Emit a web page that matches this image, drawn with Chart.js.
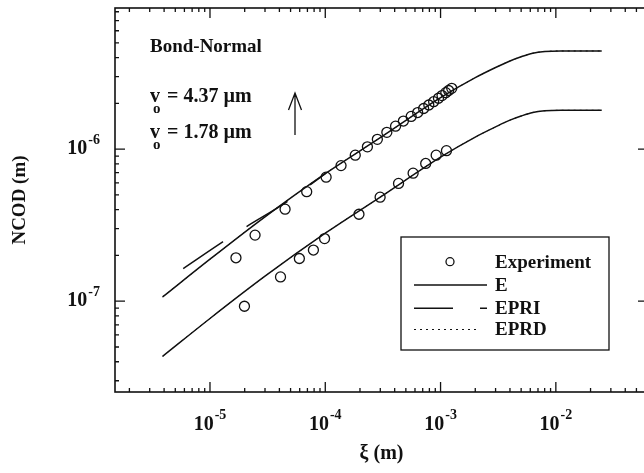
<!DOCTYPE html>
<html><head><meta charset="utf-8">
<script src="https://cdn.jsdelivr.net/npm/chart.js@4.4.0/dist/chart.umd.min.js"></script>
<style>html,body{margin:0;padding:0;overflow:hidden;background:#fff}canvas{display:block}</style>
</head><body>
<canvas id="c" width="660" height="473"></canvas>
<script>
// ---- data ----
const curveX   = [3.88e-6, 1e-5, 3e-5, 1e-4, 3e-4, 1e-3, 2e-3, 3e-3, 4e-3, 5e-3, 6.3e-3, 8e-3, 1.1e-2, 1.5e-2, 2.5e-2];
const upperE   = [1.067e-7, 1.89e-7, 3.59e-7, 6.9e-7, 1.19e-6, 2.18e-6, 2.95e-6, 3.44e-6, 3.80e-6, 4.05e-6, 4.27e-6, 4.38e-6, 4.42e-6, 4.42e-6, 4.42e-6];
const lowerE   = [4.34e-8, 7.7e-8, 1.46e-7, 2.8e-7, 4.84e-7, 8.86e-7, 1.20e-6, 1.40e-6, 1.55e-6, 1.65e-6, 1.74e-6, 1.785e-6, 1.80e-6, 1.80e-6, 1.80e-6];
const epriX    = [5.86e-6, 1.29e-5, 2.05e-5, 4.64e-5, 1e-4];
const epriY    = [1.64e-7, 2.455e-7, 3.08e-7, 4.50e-7, 6.9e-7];
const expUpperX = [1.68e-5, 2.46e-5, 4.48e-5, 6.90e-5, 1.017e-4, 1.37e-4, 1.82e-4, 2.32e-4, 2.83e-4, 3.42e-4, 4.07e-4, 4.76e-4, 5.56e-4, 6.33e-4, 7.13e-4, 7.91e-4, 8.71e-4, 9.59e-4, 1.03e-3, 1.11e-3, 1.175e-3, 1.25e-3];
const expUpperY = [1.93e-7, 2.72e-7, 4.03e-7, 5.25e-7, 6.54e-7, 7.79e-7, 9.13e-7, 1.035e-6, 1.16e-6, 1.29e-6, 1.416e-6, 1.53e-6, 1.64e-6, 1.74e-6, 1.85e-6, 1.95e-6, 2.05e-6, 2.16e-6, 2.25e-6, 2.35e-6, 2.43e-6, 2.51e-6];
const expLowerX = [1.99e-5, 4.09e-5, 5.96e-5, 7.89e-5, 9.86e-5, 1.96e-4, 2.99e-4, 4.32e-4, 5.78e-4, 7.43e-4, 9.16e-4, 1.125e-3];
const expLowerY = [9.27e-8, 1.445e-7, 1.91e-7, 2.17e-7, 2.58e-7, 3.73e-7, 4.83e-7, 5.95e-7, 6.95e-7, 8.05e-7, 9.13e-7, 9.77e-7];
const xTickExps = ['-5', '-4', '-3', '-2'];
const yTickExps = ['-7', '-6'];
const legendLabels = ['Experiment', 'E', 'EPRI', 'EPRD'];
const v0Labels = ['4.37', '1.78'];
const titleText = 'Bond-Normal';
const xTitle = 'ξ (m)';
const yTitle = 'NCOD (m)';

const FONT = '"Liberation Serif", "Times New Roman", serif';
const INK = '#111';
const pts = (xs, ys) => xs.map((x, i) => ({x, y: ys[i]}));

function logTicks(min, max) {
  const out = [];
  for (let e = Math.floor(Math.log10(min)); e <= Math.ceil(Math.log10(max)); e++) {
    for (let m = 1; m <= 9; m++) {
      const v = m * Math.pow(10, e);
      if (v >= min * 0.9999 && v <= max * 1.0001) out.push({value: v});
    }
  }
  return out;
}
const isMajor = v => Math.abs(Math.log10(v) - Math.round(Math.log10(v))) < 1e-6;

const decor = {
  id: 'decor',
  afterDraw(chart) {
    const ctx = chart.ctx, a = chart.chartArea;
    const xs = chart.scales.x, ys = chart.scales.y;
    ctx.save();
    ctx.strokeStyle = INK; ctx.fillStyle = INK;
    // frame
    ctx.lineWidth = 1.6;
    ctx.strokeRect(a.left, a.top, a.right - a.left, a.bottom - a.top);
    // inward ticks
    ctx.lineWidth = 1.3;
    ctx.beginPath();
    xs.ticks.forEach(t => {
      const p = xs.getPixelForValue(t.value);
      const L = isMajor(t.value) ? 10 : 4;
      ctx.moveTo(p, a.bottom); ctx.lineTo(p, a.bottom - L);
      ctx.moveTo(p, a.top); ctx.lineTo(p, a.top + L);
    });
    ys.ticks.forEach(t => {
      const p = ys.getPixelForValue(t.value);
      const L = isMajor(t.value) ? 10 : 4;
      ctx.moveTo(a.left, p); ctx.lineTo(a.left + L, p);
      ctx.moveTo(a.right, p); ctx.lineTo(a.right - L, p);
    });
    ctx.stroke();
    // tick labels with superscripts
    const big = 'bold 20px ' + FONT, small = 'bold 14px ' + FONT;
    ctx.textBaseline = 'alphabetic'; ctx.textAlign = 'left';
    xTickExps.forEach(ex => {
      const p = xs.getPixelForValue(Math.pow(10, +ex));
      ctx.font = big; const w1 = ctx.measureText('10').width;
      ctx.font = small; const w2 = ctx.measureText(ex).width;
      const x0 = p - (w1 + w2 + 1) / 2;
      ctx.font = big; ctx.fillText('10', x0, a.bottom + 38);
      ctx.font = small; ctx.fillText(ex, x0 + w1 + 1, a.bottom + 27);
    });
    yTickExps.forEach(ex => {
      const p = ys.getPixelForValue(Math.pow(10, +ex));
      ctx.font = small; const w2 = ctx.measureText(ex).width;
      ctx.font = big; const w1 = ctx.measureText('10').width;
      const xr = a.left - 15;
      ctx.font = small; ctx.fillText(ex, xr - w2, p - 5);
      ctx.font = big; ctx.fillText('10', xr - w2 - 1 - w1, p + 5);
    });
    // annotation texts
    ctx.font = 'bold 19px ' + FONT;
    ctx.fillText(titleText, 150, 52);
    const base = [102, 137.5];
    v0Labels.forEach((v, i) => {
      ctx.font = 'bold 20px ' + FONT;
      ctx.fillText('v', 150, base[i]);
      ctx.font = 'bold 15px ' + FONT;
      ctx.fillText('o', 153, base[i] + 11);
      ctx.font = 'bold 20px ' + FONT;
      ctx.fillText('= ' + v + ' µm', 167, base[i]);
    });
    // arrow
    ctx.lineWidth = 1.3;
    ctx.beginPath();
    ctx.moveTo(295, 135); ctx.lineTo(295, 93);
    ctx.moveTo(288.5, 110); ctx.lineTo(295, 93); ctx.lineTo(301.5, 110);
    ctx.stroke();
    // legend box
    const L0 = 401, T0 = 237, R0 = 609, B0 = 350;
    ctx.lineWidth = 1.3;
    ctx.strokeRect(L0, T0, R0 - L0, B0 - T0);
    const rows = [261.7, 285, 308.3, 329.5];
    ctx.font = 'bold 19px ' + FONT;
    ctx.textBaseline = 'middle';
    legendLabels.forEach((lab, i) => ctx.fillText(lab, 495, rows[i] + 1));
    ctx.beginPath(); ctx.arc(450, rows[0], 4, 0, Math.PI * 2); ctx.stroke();
    ctx.lineWidth = 1.5;
    ctx.beginPath(); ctx.moveTo(414, rows[1]); ctx.lineTo(487, rows[1]); ctx.stroke();
    ctx.setLineDash([39, 27]);
    ctx.beginPath(); ctx.moveTo(414, rows[2]); ctx.lineTo(487, rows[2]); ctx.stroke();
    ctx.setLineDash([2, 4]); ctx.lineWidth = 1.1;
    ctx.beginPath(); ctx.moveTo(414, rows[3]); ctx.lineTo(478, rows[3]); ctx.stroke();
    ctx.restore();
  }
};

const lineDs = (label, data, extra) => Object.assign({
  label, data, showLine: true, borderColor: INK, borderWidth: 1.5,
  pointRadius: 0, fill: false, cubicInterpolationMode: 'monotone'
}, extra || {});
const ptDs = (label, data) => ({
  label, data, showLine: false, pointStyle: 'circle', pointRadius: 5,
  borderColor: INK, borderWidth: 1.3, backgroundColor: 'rgba(0,0,0,0)'
});

new Chart(document.getElementById('c'), {
  type: 'scatter',
  data: { datasets: [
    lineDs('E', pts(curveX, upperE)),
    lineDs('E', pts(curveX, lowerE)),
    lineDs('EPRD', pts(curveX, upperE), {borderDash: [2, 4], borderWidth: 1}),
    lineDs('EPRD', pts(curveX, lowerE), {borderDash: [2, 4], borderWidth: 1}),
    lineDs('EPRI', pts(epriX, epriY), {borderDash: [48, 28]}),
    ptDs('Experiment', pts(expUpperX, expUpperY)),
    ptDs('Experiment', pts(expLowerX, expLowerY))
  ]},
  options: {
    responsive: false, animation: false,
    layout: { padding: { left: 0, top: 8, right: 12, bottom: 0 } },
    plugins: { legend: { display: false }, tooltip: { enabled: false } },
    scales: {
      x: {
        type: 'logarithmic', position: 'bottom', min: 1.5e-6, max: 6.3e-2,
        grid: { display: false }, border: { display: false }, ticks: { display: false },
        title: { display: true, text: xTitle, color: INK, font: { family: FONT, size: 20, weight: 'bold' }, padding: { top: 0, bottom: 7 } },
        afterBuildTicks: s => { s.ticks = logTicks(s.min, s.max); },
        afterFit: s => { s.height = 81; }
      },
      y: {
        type: 'logarithmic', position: 'left', min: 2.53e-8, max: 8.47e-6,
        grid: { display: false }, border: { display: false }, ticks: { display: false },
        title: { display: true, text: yTitle, color: INK, font: { family: FONT, size: 19, weight: 'bold' }, padding: { top: 9, bottom: 0 } },
        afterBuildTicks: s => { s.ticks = logTicks(s.min, s.max); },
        afterFit: s => { s.width = 115; }
      }
    }
  },
  plugins: [decor]
});
</script>
</body></html>
